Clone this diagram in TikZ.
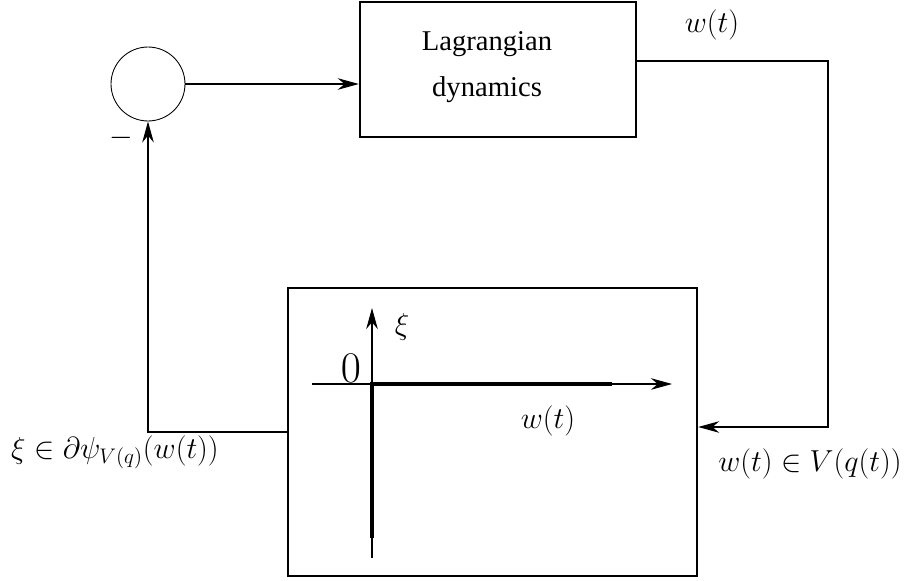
\documentclass[tikz,border=0pt]{standalone}
\usepackage{fontspec}
\setmainfont{Liberation Serif}
\usetikzlibrary{arrows.meta,positioning,calc}

\begin{document}
\begin{tikzpicture}[
  x=0.02cm, y=-0.02cm,
  every node/.style={font=\fontsize{17}{20}\selectfont},
  blockbox/.style={draw,line width=1.4pt,inner sep=0pt},
  sumnode/.style={draw,circle,line width=0.5pt,minimum size=1.48cm,inner sep=0pt},
  sig/.style={line width=0.6pt,-{Stealth[length=12pt,width=6.6pt]}},
  graphline/.style={line width=2.2pt},
]
  \useasboundingbox (0,0) rectangle (913,581);
  % summing junction
  \node[sumnode] (sum) at (148,84) {};
  \node (minus) at (121,138) {$-$};
  % Lagrangian block
  \node[blockbox,minimum width=5.52cm,minimum height=2.7cm] (lag) at (498,69.5) {};
  \node[align=center,font=\fontsize{16.3}{26.6}\selectfont] (lagtxt) at (487,67) {Lagrangian\\dynamics};
  \node (wout) at (712,25) {$w(t)$};
  % constraint block
  \node[blockbox,minimum width=8.18cm,minimum height=5.76cm] (plant) at (492.5,432) {};
  \coordinate (o) at (372,384);
  \coordinate (xleft) at (312,384);
  \coordinate (xright) at (672,384);
  \coordinate (ytop) at (372,308);
  \coordinate (ybot) at (372,558);
  \draw[sig] (xleft) -- (xright);
  \draw[sig] (ybot) -- (ytop);
  \draw[graphline] (372,538) -- (o) -- (612,384);
  \node (xi) at (402,327) {$\xi$};
  \node[font=\fontsize{25}{28}\selectfont] (zero) at (351,368) {$0$};
  \node (win) at (548,421) {$w(t)$};
  % loop
  \coordinate (tr) at (828,61);
  \coordinate (br) at (828,427);
  \draw[sig] (sum.east) -- (sum.east -| lag.west);
  \draw[sig] (lag.east |- tr) -- (tr) -- (br) -- (br -| plant.east);
  \draw[sig] (plant.west) -| (sum.south);
  \node[anchor=base] (fb) at (115,458) {$\xi\in\partial\psi_{V(q)}(w(t))$};
  \node[anchor=base] (win2) at (810,471) {$w(t)\in V(q(t))$};
\end{tikzpicture}
\end{document}
